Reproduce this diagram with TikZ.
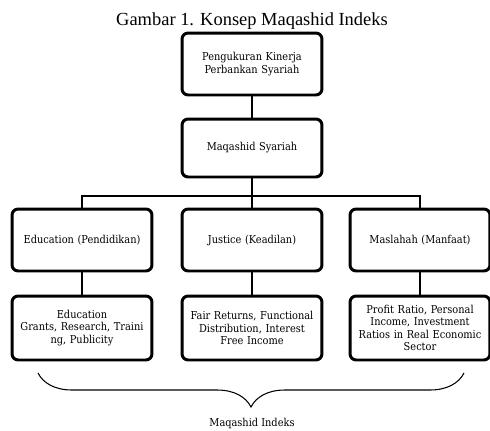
\documentclass[tikz,border=0pt]{standalone}
\usepackage{fontspec}
\setmainfont{Liberation Serif}
\newfontfamily\boxfont{DejaVu Serif Condensed}
\usepackage{tikz}
\usetikzlibrary{positioning,decorations.pathreplacing}
\tikzset{
  konsep/.style={draw=black,fill=white,line width=1.7pt,rounded corners=3.5pt,
                 align=center,inner sep=2pt,font=\boxfont\fontsize{6.2}{7.1}\selectfont,
                 minimum width=2.8cm,minimum height=1.24cm,text width=2.6cm},
  cabang/.style={line width=1.7pt,draw=black},
  kurung/.style={decorate,decoration={brace,mirror,amplitude=0.68cm,raise=0pt},
                 line width=0.6pt}
}
\begin{document}
\begin{tikzpicture}[x=0.02cm,y=-0.02cm]
    \useasboundingbox (0,0) rectangle (490,430);
    \node[font=\fontsize{10.5}{12}\selectfont] (judul) at (252,21)
      {Gambar 1. Konsep Maqashid Indeks};
    \node[konsep] (kinerja) at (252,64)
      {Pengukuran Kinerja\\Perbankan Syariah};
    \node[konsep,minimum height=1.16cm] (syariah) at (252,148) {Maqashid Syariah};
    \node[konsep] (edu) at (82,240) {Education (Pendidikan)};
    \node[konsep] (justice) at (252,240) {Justice (Keadilan)};
    \node[konsep] (maslahah) at (420,240) {Maslahah (Manfaat)};
    \node[konsep,minimum height=1.28cm] (eduind) at (82,328)
      {Education\\Grants, Research, Traini\\ng, Publicity};
    \node[konsep,minimum height=1.28cm] (justind) at (252,328)
      {Fair Returns, Functional\\Distribution, Interest\\Free Income};
    \node[konsep,minimum height=1.28cm] (maslind) at (420,328)
      {Profit Ratio, Personal\\Income, Investment\\Ratios in Real Economic\\Sector};
    % tree connectors
    \coordinate (split) at (252,196);
    \draw[cabang] (kinerja) -- (syariah);
    \draw[cabang] (syariah) -- (split) -- (justice);
    \draw[cabang] (edu.north) |- (split) -| (maslahah.north);
    \draw[cabang] (edu) -- (eduind);
    \draw[cabang] (justice) -- (justind);
    \draw[cabang] (maslahah) -- (maslind);
    % brace
    \coordinate (kiri) at (38,373);
    \coordinate (kanan) at (464,373);
    \draw[kurung] (kiri) -- (kanan);
    \node[font=\boxfont\fontsize{6.2}{7.1}\selectfont] (indeks) at (252,423) {Maqashid Indeks};
\end{tikzpicture}
\end{document}
